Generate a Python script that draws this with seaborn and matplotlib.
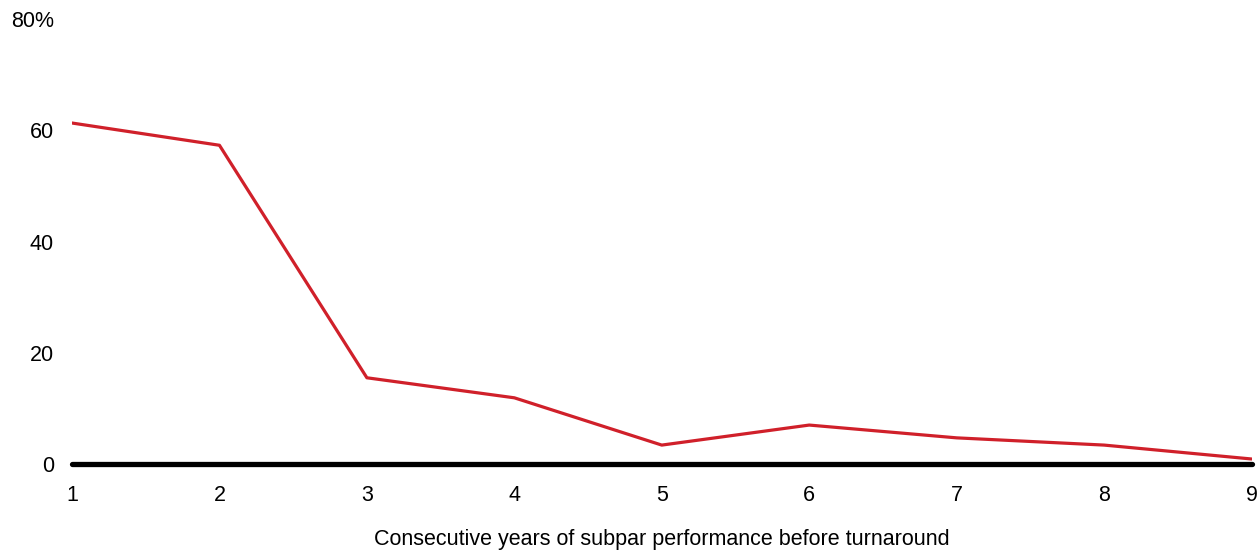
import matplotlib
matplotlib.use("Agg")
import matplotlib.pyplot as plt
import seaborn as sns
import pandas as pd

# Dados
years = [1, 2, 3, 4, 5, 6, 7, 8, 9]
share = [61.3, 57.3, 15.5, 11.9, 3.4, 7.0, 4.7, 3.4, 0.9]
y_ticks = [0, 20, 40, 60, 80]
y_tick_labels = ["0", "20", "40", "60", "80%"]

df = pd.DataFrame({"years": years, "share": share})

sns.set_style("white")
plt.rcParams["font.family"] = ["Liberation Sans", "DejaVu Sans"]
plt.rcParams["text.color"] = "black"
plt.rcParams["xtick.color"] = "black"
plt.rcParams["ytick.color"] = "black"
plt.rcParams["axes.labelcolor"] = "black"

fig = plt.figure(figsize=(12.59, 5.5), dpi=100)
ax = fig.add_axes([72 / 1259, 1 - 464 / 550, (1252 - 72) / 1259, (464 - 19) / 550])

sns.lineplot(data=df, x="years", y="share", color="#d0202a", linewidth=2.3, ax=ax)
ax.axhline(0, color="black", linewidth=3.8, clip_on=False, zorder=3)

ax.set_xlim(1, 9.003)
ax.set_ylim(0, 80)
ax.set_xticks(years)
ax.set_xticklabels([str(y) for y in years], fontsize=15.5)
ax.set_yticks(y_ticks)
ax.set_yticklabels(y_tick_labels, fontsize=15.5)
ax.tick_params(axis="both", length=0)
ax.tick_params(axis="y", pad=13)
ax.tick_params(axis="x", pad=15)

for s in ax.spines.values():
    s.set_visible(False)

ax.set_ylabel("")
ax.set_xlabel("Consecutive years of subpar performance before turnaround", fontsize=15.5, labelpad=17)

fig.savefig("out.png", dpi=100)
